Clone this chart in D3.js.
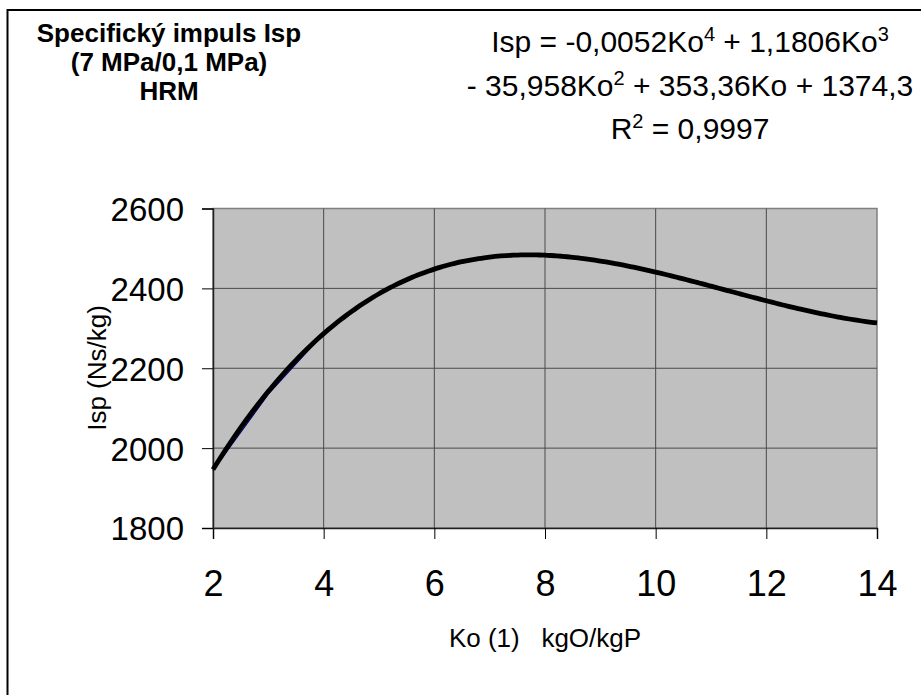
<!DOCTYPE html>
<html>
<head>
<meta charset="utf-8">
<script src="https://cdn.jsdelivr.net/npm/d3@7"></script>
<style>
  body { margin: 0; background: #fff; }
  svg { display: block; font-family: Arial, "Liberation Sans", sans-serif; }
</style>
</head>
<body>
<svg id="chart" width="921" height="695"></svg>
<script>
var ko = [2, 3, 4, 5, 6, 7, 8, 9, 10, 11, 12, 13, 14];
var isp = [1944, 2135, 2287, 2387, 2449, 2478, 2483, 2468, 2441, 2407, 2370, 2339, 2313];

// polynomial trendline coefficients shown in the label (x^4 .. x^0)
var trendCoef = [-0.0052, 1.1806, -35.958, 353.36, 1374.3];

var xTicks = [2, 4, 6, 8, 10, 12, 14];
var yTicks = [1800, 2000, 2200, 2400, 2600];

var titleLines = ['Specifický impuls Isp', '(7 MPa/0,1 MPa)', 'HRM'];
var xTitle = 'Ko (1)   kgO/kgP';
var yTitle = 'Isp (Ns/kg)';

var svg = d3.select('#chart');

var plot = { left: 213, top: 208.5, right: 877, bottom: 528 };

var x = d3.scaleLinear().domain([2, 14]).range([plot.left, plot.right]);
var y = d3.scaleLinear().domain([1800, 2600]).range([plot.bottom, plot.top]);

// outer chart frame (runs off the bottom / right of the picture)
svg.append('path')
	.attr('d', 'M7.5,700 L7.5,10 L925,10')
	.attr('fill', 'none')
	.attr('stroke', '#000')
	.attr('stroke-width', 2);

// plot area
svg.append('rect')
	.attr('x', plot.left)
	.attr('y', plot.top)
	.attr('width', plot.right - plot.left)
	.attr('height', plot.bottom - plot.top)
	.attr('fill', '#c0c0c0')
	.attr('stroke', '#808080')
	.attr('stroke-width', 1.5);

// gridlines
svg.append('g')
	.selectAll('line')
	.data(xTicks.slice(1, -1))
	.enter().append('line')
	.attr('x1', function(d) { return x(d); })
	.attr('x2', function(d) { return x(d); })
	.attr('y1', plot.top)
	.attr('y2', plot.bottom)
	.attr('stroke', '#4a4a4a')
	.attr('stroke-width', 1);

svg.append('g')
	.selectAll('line')
	.data(yTicks.slice(1, -1))
	.enter().append('line')
	.attr('x1', plot.left)
	.attr('x2', plot.right)
	.attr('y1', function(d) { return y(d); })
	.attr('y2', function(d) { return y(d); })
	.attr('stroke', '#4a4a4a')
	.attr('stroke-width', 1);

// axes
var xAxis = d3.axisBottom(x).tickValues(xTicks).tickSize(11).tickPadding(31)
	.tickFormat(d3.format('d'));
var yAxis = d3.axisLeft(y).tickValues(yTicks).tickSize(11).tickPadding(18)
	.tickFormat(d3.format('d'));

var gx = svg.append('g')
	.attr('transform', 'translate(0,' + plot.bottom + ')')
	.call(xAxis);
var gy = svg.append('g')
	.attr('transform', 'translate(' + plot.left + ',0)')
	.call(yAxis);

[gx, gy].forEach(function(g) {
	g.select('.domain').attr('stroke', '#202020').attr('stroke-width', 1.5);
	g.selectAll('.tick line').attr('stroke', '#000').attr('stroke-width', 1);
	g.selectAll('.tick text')
		.attr('fill', '#000')
		.style('font-family', 'Arial, "Liberation Sans", sans-serif');
});
gx.selectAll('.tick text').attr('dy', '0.71em').style('font-size', '36px');
gy.selectAll('.tick text').attr('dy', '0.36em').style('font-size', '33px');

// data series (thin navy line)
var line = d3.line()
	.x(function(d, i) { return x(ko[i]); })
	.y(function(d) { return y(d); });

svg.append('path')
	.datum(isp)
	.attr('d', line)
	.attr('fill', 'none')
	.attr('stroke', '#000080')
	.attr('stroke-width', 1.2);

// trendline from the polynomial
function trend(k) {
	return trendCoef.reduce(function(acc, c) { return acc * k + c; }, 0);
}
var trendKo = d3.range(2, 14.001, 0.1);
svg.append('path')
	.datum(trendKo)
	.attr('d', d3.line()
		.x(function(d) { return x(d); })
		.y(function(d) { return y(trend(d)); })
		.curve(d3.curveCatmullRom))
	.attr('fill', 'none')
	.attr('stroke', '#000')
	.attr('stroke-width', 4.8);

// chart title
svg.append('text')
	.attr('text-anchor', 'middle')
	.style('font-weight', 'bold')
	.style('font-size', '26px')
	.selectAll('tspan')
	.data(titleLines)
	.enter().append('tspan')
	.attr('x', 169)
	.attr('y', function(d, i) { return 42 + i * 29; })
	.text(function(d) { return d; });

// trendline equation
var eq = svg.append('g')
	.attr('text-anchor', 'middle')
	.style('font-size', '30px');

function eqLine(yPos, parts) {
	var t = eq.append('text').attr('x', 690).attr('y', yPos);
	var back = 0;
	parts.forEach(function(p) {
		if (typeof p === 'object') {
			t.append('tspan').attr('dy', -11).style('font-size', '20px').text(p.exp);
			back = 11;
		} else {
			t.append('tspan').attr('dy', back).text(p);
			back = 0;
		}
	});
}
eqLine(52, ['Isp = -0,0052Ko', { exp: '4' }, ' + 1,1806Ko', { exp: '3' }]);
eqLine(96, ['- 35,958Ko', { exp: '2' }, ' + 353,36Ko + 1374,3']);
eqLine(139, ['R', { exp: '2' }, ' = 0,9997']);

// axis titles
svg.append('text')
	.attr('x', 545)
	.attr('y', 647)
	.attr('text-anchor', 'middle')
	.style('font-size', '26px')
	.style('white-space', 'pre')
	.text(xTitle);

svg.append('text')
	.attr('transform', 'translate(106,368) rotate(-90)')
	.attr('text-anchor', 'middle')
	.style('font-size', '26px')
	.text(yTitle);
</script>
</body>
</html>
